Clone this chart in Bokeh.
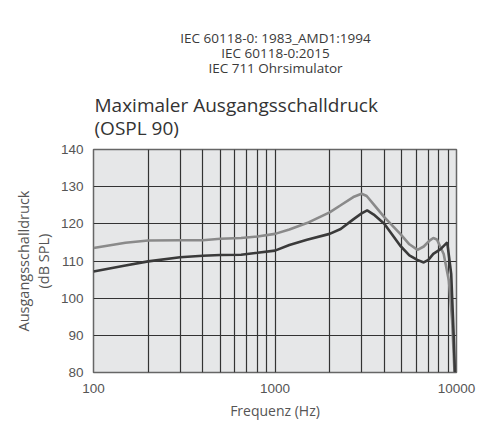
from bokeh.plotting import figure
from bokeh.layouts import column
from bokeh.models import FixedTicker, NumeralTickFormatter, Range1d, ColumnDataSource
from bokeh.core.properties import value
from bokeh.embed import file_html
from bokeh.resources import INLINE

# Data
freq_upper = [100, 150, 200, 300, 400, 500, 650, 800, 1000, 1200, 1500, 2000, 2300, 2700,
              3000, 3200, 3600, 4000, 4900, 5500, 6100, 6600, 7100, 7450, 7800, 8500, 9080,
              9460, 9750]
spl_upper = [113.5, 114.9, 115.5, 115.6, 115.6, 116.0, 116.2, 116.6, 117.3, 118.5, 120.2,
             123.1, 125.0, 127.2, 128.1, 127.5, 124.5, 121.8, 117.3, 114.5, 113.0, 113.9,
             115.5, 116.2, 115.8, 111.9, 104.7, 93.9, 80.0]

freq_lower = [100, 150, 200, 300, 400, 500, 650, 800, 1000, 1200, 1500, 2000, 2300, 2700,
              3000, 3220, 3500, 4000, 4900, 5500, 6080, 6600, 7000, 7450, 8170, 8890, 9350,
              9660, 9800]
spl_lower = [107.2, 108.8, 109.9, 111.0, 111.4, 111.6, 111.7, 112.2, 112.8, 114.3, 115.7,
             117.3, 118.6, 121.2, 122.8, 123.6, 122.5, 120.0, 114.1, 111.5, 110.3, 109.6,
             110.3, 111.9, 113.2, 115.0, 106.5, 89.4, 80.0]

x_major = [100, 1000, 10000]
x_minor = [200, 300, 400, 500, 600, 700, 800, 900, 2000, 3000, 4000, 5000, 6000, 7000, 8000, 9000]
y_ticks = [80, 90, 100, 110, 120, 130, 140]

header_lines = ["IEC 60118-0: 1983_AMD1:1994", "IEC 60118-0:2015", "IEC 711 Ohrsimulator"]
title_lines = ["Maximaler Ausgangsschalldruck", "(OSPL 90)"]
ylabel = "Ausgangsschalldruck\n(dB SPL)"
xlabel = "Frequenz (Hz)"

# Layout (pixels)
FRAME_L, FRAME_R = 93, 456
MAIN_TOP = 8
TOP_H = 149 - MAIN_TOP

# ---- header figure (texts above the chart); its frame is aligned with the chart frame ----
head = figure(width=478, height=TOP_H, output_backend="svg", toolbar_location=None,
              x_range=Range1d(FRAME_L, FRAME_R), y_range=Range1d(TOP_H, 0),
              min_border=0, outline_line_color=None)
head.axis.visible = False
head.grid.visible = False
head.background_fill_color = "white"
head.border_fill_color = "white"

hsrc = ColumnDataSource(dict(x=[275] * len(header_lines),
                             y=[37 + 15 * i for i in range(len(header_lines))],
                             t=header_lines))
head.text(x="x", y="y", text="t", source=hsrc, text_align="center", text_baseline="middle",
          text_font=value("Open Sans"), text_font_size="13.5px", text_color="#3a3a3a")
tsrc = ColumnDataSource(dict(x=[FRAME_L + 1] * len(title_lines),
                             y=[104 + 23 * i for i in range(len(title_lines))],
                             t=title_lines))
head.text(x="x", y="y", text="t", source=tsrc, text_align="left", text_baseline="middle",
          text_font=value("Open Sans"), text_font_size="19px", text_color="#333333")

# ---- main chart ----
p = figure(width=478, height=434 - TOP_H, frame_width=FRAME_R - FRAME_L, frame_height=223,
           x_axis_type="log", output_backend="svg", toolbar_location=None,
           min_border_left=FRAME_L, min_border_right=478 - FRAME_R,
           min_border_top=MAIN_TOP, min_border_bottom=62)
p.x_range = Range1d(100, 10000)
p.y_range = Range1d(80, 140)

p.background_fill_color = "#e6e7e8"
p.border_fill_color = "white"
p.outline_line_color = "#666666"
p.outline_line_width = 1.5

p.xaxis.ticker = FixedTicker(ticks=x_major, minor_ticks=x_minor)
p.xaxis.formatter = NumeralTickFormatter(format="0")
p.yaxis.ticker = FixedTicker(ticks=y_ticks)

for ax in (p.xaxis[0], p.yaxis[0]):
    ax.axis_line_color = None
    ax.major_tick_line_color = None
    ax.minor_tick_line_color = None
    ax.major_tick_out = 0
    ax.minor_tick_out = 0
    ax.major_label_text_font = "Liberation Sans"
    ax.major_label_text_font_size = "13.5px"
    ax.major_label_text_color = "#555555"
    ax.axis_label_text_font = "Open Sans"
    ax.axis_label_text_font_style = "normal"
    ax.axis_label_text_font_size = "14px"
    ax.axis_label_text_color = "#555555"

p.yaxis.major_label_standoff = 10
p.xaxis.major_label_standoff = 11
p.xaxis.axis_label = xlabel
p.xaxis.axis_label_standoff = 5
p.yaxis.axis_label = ylabel
p.yaxis.axis_label_text_font_size = "14.5px"
p.yaxis.axis_label_text_line_height = 1.05
p.yaxis.axis_label_standoff = 5

p.xgrid.grid_line_color = "#333333"
p.xgrid.grid_line_width = 1.2
p.xgrid.minor_grid_line_color = "#333333"
p.xgrid.minor_grid_line_width = 1.2
p.ygrid.grid_line_color = "#333333"
p.ygrid.grid_line_width = 1.2

p.line(freq_upper, spl_upper, line_color="#8a8a8a", line_width=2.6)
p.line(freq_lower, spl_lower, line_color="#3a3a3a", line_width=2.6)

layout = column(head, p, spacing=0)
open("out.html", "w").write(file_html(layout, INLINE))
